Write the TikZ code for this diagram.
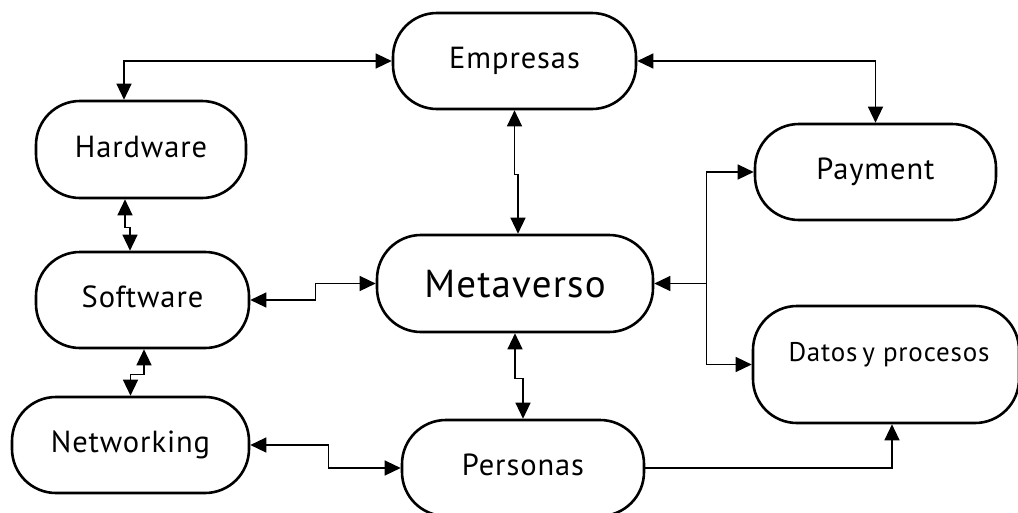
\documentclass[tikz,border=0pt]{standalone}
\usepackage{fontspec}
\setmainfont{PT Sans}[LetterSpace=3]
\usetikzlibrary{arrows.meta}
\begin{document}
\begin{tikzpicture}[x=1pt,y=-1pt,
  box/.style={draw, line width=2.6pt, rounded corners=44pt, inner sep=0pt,
    font=\fontsize{30.5}{36}\selectfont, text height=21pt, text depth=6pt},
  conn/.style={line width=1.3pt},
  tip/.tip={Triangle[length=16pt,width=15pt]},
  bi/.style={conn, tip-tip},
  toend/.style={conn, -tip},
  tostart/.style={conn, tip-}]
\useasboundingbox (0,0) rectangle (1018,512);

\node[box, minimum width=243pt, minimum height=96pt] (E) at (514.5,61) {Empresas};
\node[box, minimum width=210pt, minimum height=97pt] (H) at (141,149.5) {Hardware};
\node[box, minimum width=241pt, minimum height=96pt] (P) at (875.5,172) {Payment};
\node[box, minimum width=276pt, minimum height=97pt, font=\fontsize{39}{46}\selectfont,
      text height=27pt, text depth=0pt] (M) at (515,283.5) {Metaverso};
\node[box, minimum width=213pt, minimum height=96pt] (S) at (142.5,300) {Software};
\node[box, minimum width=266pt, minimum height=117pt, font=\fontsize{27}{33}\selectfont,
      text height=19pt, text depth=25pt] (D) at (886,364.5) {\hspace{6pt}Datos\hspace{-3pt} y procesos};
\node[box, minimum width=237pt, minimum height=96pt] (N) at (130.5,445) {Networking};
\node[box, minimum width=242pt, minimum height=96pt] (Pe) at (523,468) {Personas};

% Hardware -- Empresas
\draw[bi] (E.west) -| ([xshift=-17pt]H.north);
% Empresas -- Payment
\draw[bi] (E.east) -| (P.north);
% Empresas -- Metaverso
\draw[bi] (E.south) -- ++(0,64) -| ([xshift=3pt]M.north);
% Hardware -- Software
\draw[bi] ([xshift=-16pt]H.south) -- ++(0,28) -| ([xshift=-12.5pt]S.north);
% Software -- Networking
\draw[bi] ([xshift=1.5pt]S.south) -- ++(0,25) -| (N.north);
% Software -- Metaverso
\draw[bi] (S.east) -- ++(65,0) |- (M.west);
% Networking -- Personas
\draw[bi] (N.east) -- ++(78,0) |- (Pe.west);
% Metaverso -- Personas
\draw[bi] (M.south) -- ++(0,45) -| (Pe.north);
% Metaverso -- Payment / Datos
\coordinate (j) at ([xshift=52pt]M.east);
\draw[tostart] (M.east) -- (j);
\draw[toend] (j) |- (P.west);
\draw[toend] (j) |- (D.west);
% Personas -- Datos
\draw[toend] (Pe.east) -| ([xshift=6pt]D.south);
\end{tikzpicture}
\end{document}
